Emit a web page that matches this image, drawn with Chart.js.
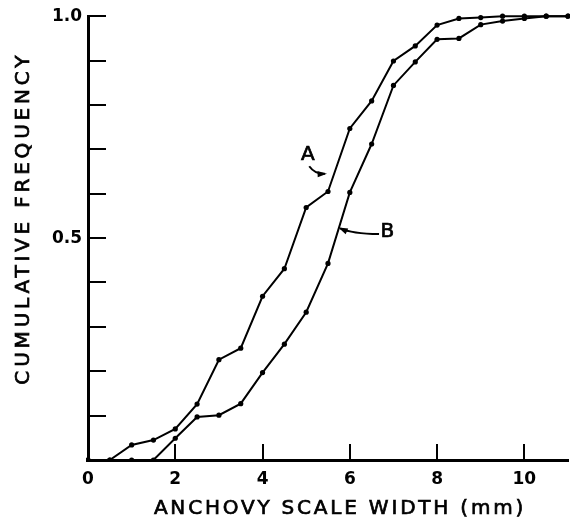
<!DOCTYPE html>
<html>
<head>
<meta charset="utf-8">
<script src="https://cdn.jsdelivr.net/npm/chart.js@4.4.1/dist/chart.umd.min.js"></script>
<style>
  html, body { margin: 0; padding: 0; background: #fff; }
  #wrap { width: 572px; height: 522px; }
</style>
</head>
<body>
<div id="wrap"><canvas id="cumChart" width="572" height="522"></canvas></div>
<script>
/*
  Cumulative frequency of anchovy scale widths, curves A and B.
*/
const scaleWidths = [0, 0.5, 1, 1.5, 2, 2.5, 3, 3.5, 4, 4.5, 5, 5.5, 6, 6.5, 7, 7.5, 8, 8.5, 9, 9.5, 10, 10.5, 11];
const curveA = [0, 0, 0.034, 0.045, 0.07, 0.126, 0.226, 0.252, 0.369, 0.431, 0.569, 0.605, 0.747, 0.809, 0.899, 0.933, 0.98, 0.995, 0.997, 1, 1, 1, 1];
const curveB = [0, 0, 0, 0, 0.049, 0.097, 0.101, 0.127, 0.197, 0.261, 0.333, 0.443, 0.603, 0.712, 0.844, 0.897, 0.948, 0.95, 0.981, 0.989, 0.995, 1, 1];
const xTickValues = [0, 2, 4, 6, 8, 10];
const yTickValues = [0, 0.1, 0.2, 0.3, 0.4, 0.5, 0.6, 0.7, 0.8, 0.9, 1.0];
const yLabelled = [0.5, 1.0];

const xTitle = "ANCHOVY SCALE WIDTH (mm)";
const yTitle = "CUMULATIVE FREQUENCY";

// curve labels: text, text position, arrow start, arrow control, arrow end (data units)
const curveLabels = [
  { text: "A", at: [5.04, 0.688], from: [5.07, 0.662], ctrl: [5.2, 0.644], to: [5.43, 0.645] },
  { text: "B", at: [6.86, 0.515], from: [6.67, 0.509], ctrl: [6.05, 0.51], to: [5.78, 0.522] },
];

const toPoints = (ys) => scaleWidths.map((x, i) => ({ x, y: ys[i] }));

// draws text with a thin outline so the strokes look like the lettering of the original
function heavyText(ctx, text, x, y) {
  ctx.fillText(text, x, y);
  ctx.strokeText(text, x, y);
}

const inwardTicks = {
  id: "inwardTicks",
  afterDatasetsDraw(chart) {
    const { ctx, chartArea, scales } = chart;
    ctx.save();
    ctx.strokeStyle = "#000";
    ctx.lineWidth = 2;
    ctx.beginPath();
    yTickValues.filter((v) => v > 0).forEach((v) => {
      const py = Math.round(scales.y.getPixelForValue(v));
      ctx.moveTo(chartArea.left, py);
      ctx.lineTo(chartArea.left + 18, py);
    });
    xTickValues.filter((v) => v > 0).forEach((v) => {
      const px = Math.round(scales.x.getPixelForValue(v));
      ctx.moveTo(px, chartArea.bottom);
      ctx.lineTo(px, chartArea.bottom - 16);
    });
    ctx.stroke();
    ctx.restore();
  },
};

const axisTitles = {
  id: "axisTitles",
  afterDraw(chart) {
    const { ctx, chartArea } = chart;
    ctx.save();
    ctx.fillStyle = "#000";
    ctx.strokeStyle = "#000";
    ctx.lineWidth = 0.7;
    ctx.textAlign = "center";
    ctx.textBaseline = "middle";
    ctx.font = '20px "DejaVu Sans"';
    ctx.letterSpacing = "2.8px";
    heavyText(ctx, xTitle, 340, chartArea.bottom + 49);
    ctx.translate(24, chartArea.top + 202);
    ctx.rotate(-Math.PI / 2);
    ctx.letterSpacing = "3.8px";
    heavyText(ctx, yTitle, 0, 0);
    ctx.restore();
  },
};

const curveNotes = {
  id: "curveNotes",
  afterDatasetsDraw(chart) {
    const { ctx, scales } = chart;
    const px = (p) => [scales.x.getPixelForValue(p[0]), scales.y.getPixelForValue(p[1])];
    ctx.save();
    ctx.fillStyle = "#000";
    ctx.strokeStyle = "#000";
    ctx.font = '20px "DejaVu Sans"';
    ctx.textAlign = "center";
    ctx.textBaseline = "middle";
    curveLabels.forEach((note) => {
      const [tx, ty] = px(note.at);
      ctx.lineWidth = 0.7;
      heavyText(ctx, note.text, tx, ty);
      const [x0, y0] = px(note.from);
      const [cx, cy] = px(note.ctrl);
      const [x1, y1] = px(note.to);
      ctx.lineWidth = 2;
      ctx.beginPath();
      ctx.moveTo(x0, y0);
      ctx.quadraticCurveTo(cx, cy, x1, y1);
      ctx.stroke();
      // arrowhead
      const ang = Math.atan2(y1 - cy, x1 - cx);
      const len = 8;
      ctx.beginPath();
      ctx.moveTo(x1 + Math.cos(ang) * 2, y1 + Math.sin(ang) * 2);
      ctx.lineTo(x1 - Math.cos(ang - 0.4) * len, y1 - Math.sin(ang - 0.4) * len);
      ctx.lineTo(x1 - Math.cos(ang + 0.4) * len, y1 - Math.sin(ang + 0.4) * len);
      ctx.closePath();
      ctx.fill();
    });
    ctx.restore();
  },
};

function lineDataset(label, values) {
  return {
    label,
    data: toPoints(values),
    borderColor: "#000",
    backgroundColor: "#000",
    borderWidth: 2,
    pointRadius: 2.6,
    pointBackgroundColor: "#000",
    pointBorderWidth: 0,
    tension: 0,
    clip: { left: 2, right: 2, top: 4, bottom: 2 },
  };
}

new Chart(document.getElementById("cumChart"), {
  type: "line",
  data: {
    datasets: [lineDataset("A", curveA), lineDataset("B", curveB)],
  },
  options: {
    responsive: false,
    animation: false,
    layout: { padding: { top: 15, right: 0, left: 0, bottom: 0 } },
    plugins: {
      legend: { display: false },
      tooltip: { enabled: false },
    },
    scales: {
      x: {
        type: "linear",
        min: 0,
        max: 11,
        afterBuildTicks: (scale) => {
          scale.ticks = xTickValues.map((value) => ({ value }));
        },
        afterFit: (scale) => {
          scale.height = 62;
        },
        grid: { display: false, drawTicks: false },
        border: { display: true, color: "#000", width: 3 },
        ticks: {
          color: "#000",
          padding: 9,
          maxRotation: 0,
          font: { family: "DejaVu Sans", size: 17, weight: "bold" },
        },
      },
      y: {
        type: "linear",
        min: 0,
        max: 1,
        afterBuildTicks: (scale) => {
          scale.ticks = yTickValues.map((value) => ({ value }));
        },
        afterFit: (scale) => {
          scale.width = 88;
        },
        grid: { display: false, drawTicks: false },
        border: { display: true, color: "#000", width: 3 },
        ticks: {
          color: "#000",
          padding: 6,
          font: { family: "DejaVu Sans", size: 17, weight: "bold" },
          callback: (v) => (yLabelled.some((t) => Math.abs(t - v) < 1e-6) ? v.toFixed(1) : ""),
        },
      },
    },
  },
  plugins: [inwardTicks, curveNotes, axisTitles],
});
</script>
</body>
</html>
